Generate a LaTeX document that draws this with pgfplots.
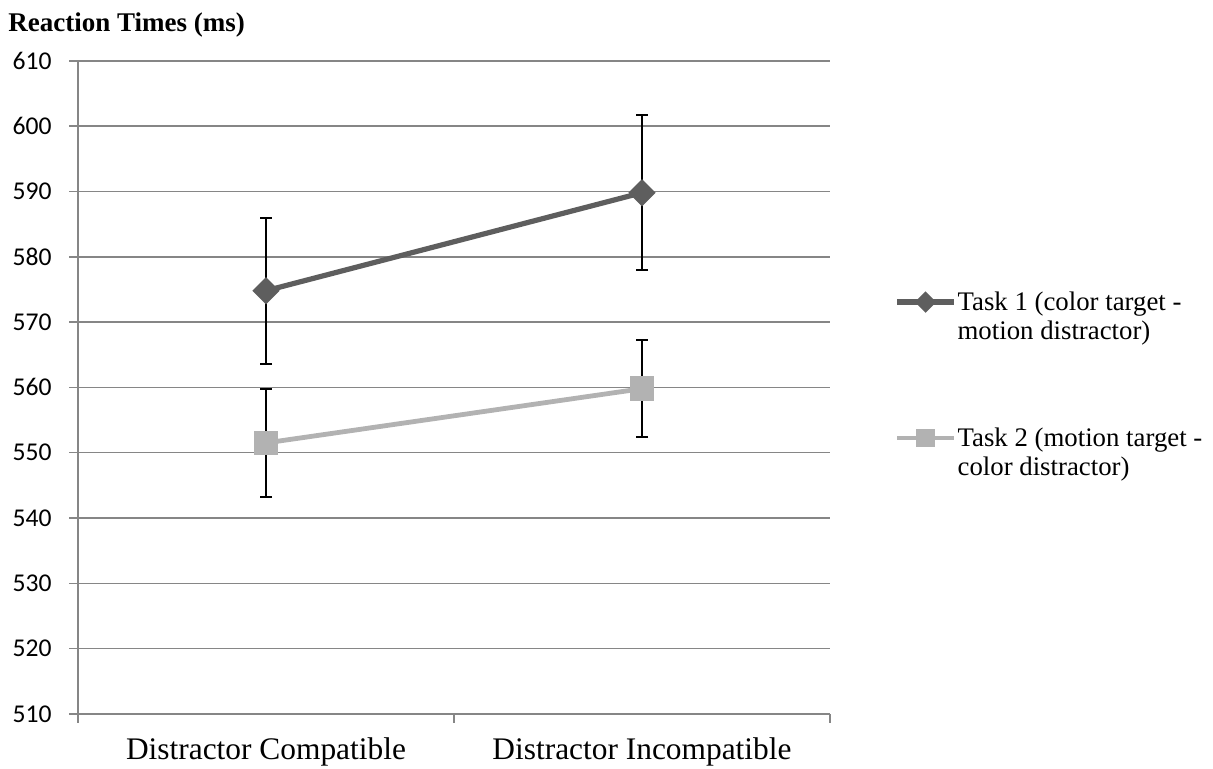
\documentclass[border=0pt]{standalone}
\usepackage{pgfplots}
\pgfplotsset{compat=1.18}
\usepackage{fontspec}
\setmainfont{Liberation Serif}
\newfontfamily\carlito{Carlito}
\definecolor{taskone}{RGB}{94,94,94}
\definecolor{tasktwo}{RGB}{178,178,178}
\definecolor{gridgray}{RGB}{134,134,134}

\begin{document}
\begin{tikzpicture}
\useasboundingbox (-39pt,-27.5pt) rectangle (567.5pt,357pt);
\begin{axis}[
  at={(0pt,0pt)}, anchor=south west,
  scale only axis, width=376pt, height=326.6pt,
  xmin=-0.5, xmax=1.5, ymin=510, ymax=610,
  ytick distance=10,
  axis x line*=bottom, axis y line*=left,
  axis line style={gridgray, line width=0.75pt},
  tick style={gridgray, line width=0.75pt},
  tick align=outside, major tick length=4.3pt,
  ymajorgrids, grid style={gridgray, line width=0.75pt},
  xtick={-0.5,0.5,1.5}, xticklabels={},
  extra x ticks={0,1},
  extra x tick labels={Distractor Compatible, Distractor Incompatible},
  extra x tick style={major tick length=0pt, grid=none},
  xticklabel style={font=\fontsize{15.7}{18}\selectfont, anchor=base, yshift=-23pt},
  yticklabel style={font=\carlito\fontsize{12.8}{15}\selectfont, inner sep=0pt, xshift=-8.7pt},
  /pgf/number format/assume math mode=true,
  legend style={at={(1,0.6496)}, anchor=north west, xshift=32pt, draw=none, fill=none,
    inner sep=0pt, row sep=39pt, column sep=0.5pt,
    nodes={inner sep=0pt, text depth=},
    font=\fontsize{13.4}{14.5}\selectfont},
  legend cell align=left,
  legend image code/.code={
    \begin{scope}[yshift=8.5pt]
    \draw[mark repeat=2, mark phase=2] plot coordinates {(0pt,0pt) (14.25pt,0pt) (28.5pt,0pt)};
    \end{scope}
  },
  legend image post style={every mark/.append style={scale=0.7}},
]
\addplot[taskone, line width=2.6pt, mark=square*, mark size=3.54pt,
  mark options={rotate=45, solid},
  error bars/.cd, y dir=both, y explicit,
  error bar style={black, line width=1pt},
  error mark options={black, line width=1pt, mark size=3pt, rotate=90}]
  coordinates {(0,574.8) +- (0,11.2) (1,589.8) +- (0,11.9)};
\addlegendentry{\begin{tabular}[t]{@{}l@{}}Task 1 (color target -\\motion distractor)\end{tabular}}
\addplot[tasktwo, line width=2.4pt, mark=square*, mark size=5pt,
  mark options={solid},
  error bars/.cd, y dir=both, y explicit,
  error bar style={black, line width=1pt},
  error mark options={black, line width=1pt, mark size=3pt, rotate=90}]
  coordinates {(0,551.5) +- (0,8.3) (1,559.8) +- (0,7.4)};
\addlegendentry{\begin{tabular}[t]{@{}l@{}}Task 2 (motion target -\\color distractor)\end{tabular}}
\end{axis}
\node[anchor=base west, inner sep=0pt, font=\bfseries\fontsize{13.5}{15}\selectfont]
  at (-35pt,341pt) {Reaction Times (ms)};
\end{tikzpicture}
\end{document}
